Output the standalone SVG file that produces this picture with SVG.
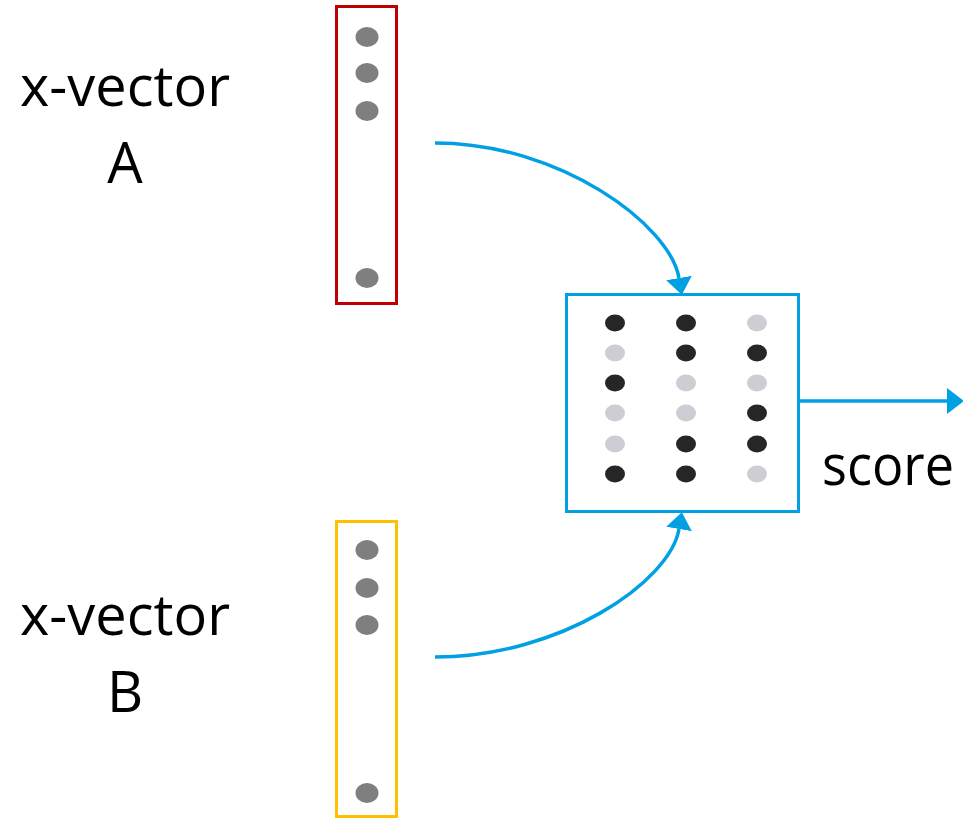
<svg xmlns="http://www.w3.org/2000/svg" width="963" height="819" viewBox="0 0 963 819">
  <style>
    .label { font-family: "Open Sans", "Liberation Sans", sans-serif; font-size: 56px; fill: #000; }
    .vec-dot { fill: #7f7f7f; }
    .dark { fill: #262626; }
    .light { fill: #cdcdd3; }
    .link { fill: none; stroke: #00a0e3; stroke-width: 3.5; }
  </style>
  <defs>
    <marker id="head" markerUnits="userSpaceOnUse" markerWidth="17" markerHeight="26" refX="0" refY="13" orient="auto">
      <path d="M0,0 L17,13 L0,26 z" fill="#00a0e3"/>
    </marker>
  </defs>
  <rect width="963" height="819" fill="#fff"/>

  <!-- vector A -->
  <g id="xvector-a">
    <text class="label" x="125" y="106" text-anchor="middle" textLength="210" lengthAdjust="spacingAndGlyphs">x-vector</text>
    <text class="label" x="125" y="183" text-anchor="middle">A</text>
    <rect x="336.5" y="6.5" width="60" height="297" fill="none" stroke="#c00000" stroke-width="3"/>
    <ellipse class="vec-dot" cx="367" cy="37" rx="11.5" ry="10"/>
    <ellipse class="vec-dot" cx="367" cy="73" rx="11.5" ry="10"/>
    <ellipse class="vec-dot" cx="367" cy="111" rx="11.5" ry="10"/>
    <ellipse class="vec-dot" cx="367" cy="278" rx="11.5" ry="10"/>
  </g>

  <!-- vector B -->
  <g id="xvector-b">
    <text class="label" x="125" y="635" text-anchor="middle" textLength="210" lengthAdjust="spacingAndGlyphs">x-vector</text>
    <text class="label" x="125" y="712" text-anchor="middle">B</text>
    <rect x="336.5" y="521.5" width="60" height="295" fill="none" stroke="#ffc000" stroke-width="3"/>
    <ellipse class="vec-dot" cx="367" cy="550" rx="11.5" ry="10"/>
    <ellipse class="vec-dot" cx="367" cy="588" rx="11.5" ry="10"/>
    <ellipse class="vec-dot" cx="367" cy="625" rx="11.5" ry="10"/>
    <ellipse class="vec-dot" cx="367" cy="793" rx="11.5" ry="10"/>
  </g>

  <!-- scoring block -->
  <g id="scorer">
    <rect x="566.5" y="294.5" width="232" height="217" fill="none" stroke="#00a0e3" stroke-width="3"/>
    <g>
      <ellipse class="dark"  cx="615" cy="323" rx="10" ry="8.5"/>
      <ellipse class="dark"  cx="686" cy="323" rx="10" ry="8.5"/>
      <ellipse class="light" cx="757" cy="323" rx="10" ry="8.5"/>
      <ellipse class="light" cx="615" cy="353" rx="10" ry="8.5"/>
      <ellipse class="dark"  cx="686" cy="353" rx="10" ry="8.5"/>
      <ellipse class="dark"  cx="757" cy="353" rx="10" ry="8.5"/>
      <ellipse class="dark"  cx="615" cy="383" rx="10" ry="8.5"/>
      <ellipse class="light" cx="686" cy="383" rx="10" ry="8.5"/>
      <ellipse class="light" cx="757" cy="383" rx="10" ry="8.5"/>
      <ellipse class="light" cx="615" cy="413" rx="10" ry="8.5"/>
      <ellipse class="light" cx="686" cy="413" rx="10" ry="8.5"/>
      <ellipse class="dark"  cx="757" cy="413" rx="10" ry="8.5"/>
      <ellipse class="light" cx="615" cy="444" rx="10" ry="8.5"/>
      <ellipse class="dark"  cx="686" cy="444" rx="10" ry="8.5"/>
      <ellipse class="dark"  cx="757" cy="444" rx="10" ry="8.5"/>
      <ellipse class="dark"  cx="615" cy="474" rx="10" ry="8.5"/>
      <ellipse class="dark"  cx="686" cy="474" rx="10" ry="8.5"/>
      <ellipse class="light" cx="757" cy="474" rx="10" ry="8.5"/>
    </g>
  </g>

  <g id="score-label">
    <text class="label" x="822" y="485" textLength="132" lengthAdjust="spacingAndGlyphs">score</text>
  </g>

  <!-- connectors -->
  <g id="connectors">
    <path class="link" d="M435,143 C560,143 670,225 679,278" marker-end="url(#head)"/>
    <path class="link" d="M435,657 C560,657 670,582 679,529" marker-end="url(#head)"/>
    <path class="link" d="M799,401 H947" marker-end="url(#head)"/>
  </g>
</svg>
